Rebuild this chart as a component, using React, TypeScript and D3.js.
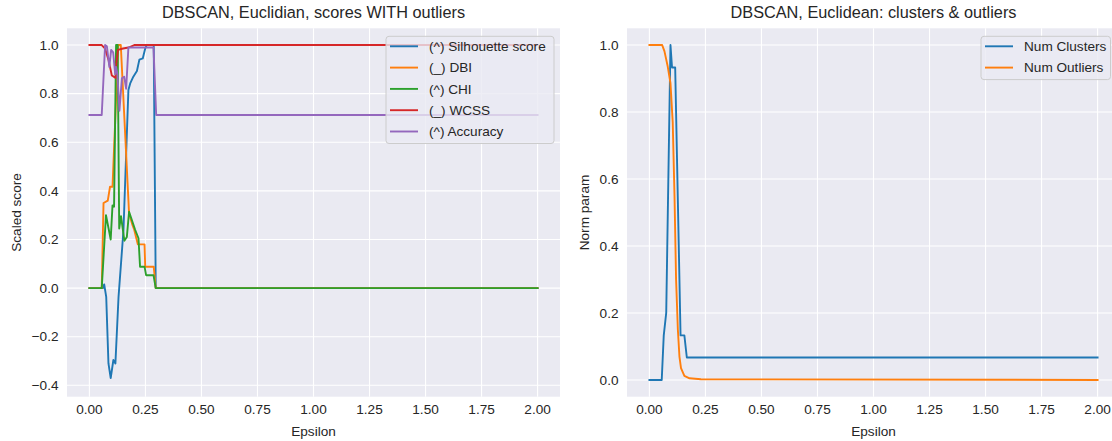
import React from 'react';
import * as d3 from 'd3';

// canvas
const width = 1112;
const height = 441;
const font = '"Liberation Sans", Arial, sans-serif';
const ink = '#262626';

// ticks
const epsTicks = [0, 0.25, 0.5, 0.75, 1, 1.25, 1.5, 1.75, 2];
const scoreTicks = [-0.4, -0.2, 0, 0.2, 0.4, 0.6, 0.8, 1.0];
const normTicks = [0, 0.2, 0.4, 0.6, 0.8, 1.0];

// left panel: [epsilon, scaled score]
const silhouette: [number, number][] = [
  [0, 0], [0.06, 0], [0.066, 0.015], [0.075, -0.036], [0.085, -0.31], [0.095, -0.37],
  [0.107, -0.296], [0.116, -0.31], [0.13, -0.036], [0.152, 0.238], [0.174, 0.815],
  [0.182, 0.842], [0.196, 0.87], [0.212, 0.893], [0.223, 0.94], [0.238, 0.945],
  [0.249, 0.986], [0.256, 1.0], [0.287, 1.0], [0.296, 0], [2.0, 0],
];
const dbi: [number, number][] = [
  [0, 0], [0.055, 0], [0.063, 0.35], [0.082, 0.36], [0.092, 0.417], [0.103, 0.417],
  [0.129, 1.0], [0.14, 1.0], [0.177, 0.307], [0.192, 0.26], [0.2, 0.24], [0.216, 0.18],
  [0.246, 0.18], [0.249, 0.088], [0.287, 0.088], [0.296, 0], [2.0, 0],
];
const chi: [number, number][] = [
  [0, 0], [0.055, 0], [0.074, 0.3], [0.095, 0.2], [0.103, 0.34], [0.11, 0.335],
  [0.119, 1.0], [0.126, 1.0], [0.133, 0.245], [0.141, 0.296], [0.156, 0.195],
  [0.167, 0.21], [0.177, 0.314], [0.204, 0.24], [0.219, 0.205], [0.226, 0.088],
  [0.246, 0.088], [0.253, 0.053], [0.286, 0.053], [0.296, 0], [2.0, 0],
];
const wcss: [number, number][] = [
  [0, 1.0], [0.055, 1.0], [0.07, 0.985], [0.085, 0.94], [0.1, 0.875], [0.117, 0.865],
  [0.12, 0.92], [0.127, 0.98], [0.15, 0.986], [0.175, 0.99], [0.2, 1.0], [2.0, 1.0],
];
const accuracy: [number, number][] = [
  [0, 0.712], [0.055, 0.712], [0.07, 1.0], [0.078, 0.995], [0.089, 0.91], [0.097, 0.98],
  [0.106, 0.97], [0.115, 0.88], [0.119, 0.91], [0.125, 0.88], [0.134, 0.73],
  [0.145, 0.863], [0.155, 0.87], [0.164, 0.82], [0.174, 0.99], [0.286, 0.99],
  [0.298, 0.712], [2.0, 0.712],
];

// right panel: [epsilon, normalised param]
const numClusters: [number, number][] = [
  [0, 0], [0.055, 0], [0.064, 0.133], [0.075, 0.2], [0.094, 1.0], [0.101, 0.933],
  [0.115, 0.933], [0.139, 0.133], [0.156, 0.133], [0.167, 0.067], [2.0, 0.067],
];
const numOutliers: [number, number][] = [
  [0, 1.0], [0.057, 1.0], [0.067, 0.982], [0.082, 0.935], [0.094, 0.886], [0.104, 0.77],
  [0.112, 0.55], [0.119, 0.3], [0.127, 0.15], [0.134, 0.07], [0.141, 0.035],
  [0.156, 0.012], [0.179, 0.005], [0.23, 0.002], [2.0, 0],
];

const leftSeries = [
  { name: '(^) Silhouette score', data: silhouette, color: '#1f77b4' },
  { name: '(_) DBI', data: dbi, color: '#ff7f0e' },
  { name: '(^) CHI', data: chi, color: '#2ca02c' },
  { name: '(_) WCSS', data: wcss, color: '#d62728' },
  { name: '(^) Accuracy', data: accuracy, color: '#9467bd' },
];
const rightSeries = [
  { name: 'Num Clusters', data: numClusters, color: '#1f77b4' },
  { name: 'Num Outliers', data: numOutliers, color: '#ff7f0e' },
];

const top = 28.3;
const bottom = 396.7;
const axW = 493;
const fs = 13.6;

type Series = { name: string; data: [number, number][]; color: string };

function Panel(props: {
  id: string;
  left: number;
  yDomain: [number, number];
  yTicks: number[];
  title: string;
  ylabel: string;
  ylabelX: number;
  series: Series[];
  legendLeft: number;
  legendRight: number;
}) {
  const { id, left, yDomain, yTicks, title, ylabel, ylabelX, series, legendLeft, legendRight } = props;
  const x = d3.scaleLinear().domain([-0.1, 2.1]).range([left, left + axW]);
  const y = d3.scaleLinear().domain(yDomain).range([bottom, top]);
  const line = d3
    .line<[number, number]>()
    .x(d => x(d[0]))
    .y(d => y(d[1]));
  const fx = d3.format('.2f');
  const fy = d3.format('.1f');
  const cx = left + axW / 2;

  const rowH = 21.3;
  const legH = 10 + (series.length - 1) * rowH + 12;
  const legY = 36.3;

  return (
    <g>
      <defs>
        <clipPath id={id}>
          <rect x={left} y={top} width={axW} height={bottom - top} />
        </clipPath>
      </defs>
      <rect x={left} y={top} width={axW} height={bottom - top} fill="#eaeaf2" />
      {epsTicks.map(t => (
        <line key={'gx' + t} x1={x(t)} x2={x(t)} y1={top} y2={bottom} stroke="#fff" strokeWidth={1.1} />
      ))}
      {yTicks.map(t => (
        <line key={'gy' + t} x1={left} x2={left + axW} y1={y(t)} y2={y(t)} stroke="#fff" strokeWidth={1.1} />
      ))}
      <g clipPath={`url(#${id})`}>
        {series.map(s => (
          <path key={s.name} d={line(s.data) || ''} fill="none" stroke={s.color} strokeWidth={1.9} strokeLinejoin="round" strokeLinecap="square" />
        ))}
      </g>
      {epsTicks.map(t => (
        <text key={'tx' + t} x={x(t)} y={414} textAnchor="middle" fontSize={fs} fill={ink}>
          {fx(t)}
        </text>
      ))}
      {yTicks.map(t => (
        <text key={'ty' + t} x={left - 8.5} y={y(t)} dy="0.35em" textAnchor="end" fontSize={fs} fill={ink}>
          {fy(t)}
        </text>
      ))}
      <text x={cx} y={435.5} textAnchor="middle" fontSize={fs} fill={ink}>Epsilon</text>
      <text
        transform={`translate(${ylabelX},${(top + bottom) / 2}) rotate(-90)`}
        textAnchor="middle"
        fontSize={fs}
        fill={ink}
      >
        {ylabel}
      </text>
      <text x={cx} y={18} textAnchor="middle" fontSize={16.3} fill={ink}>{title}</text>
      <g>
        <rect x={legendLeft} y={legY} width={legendRight - legendLeft} height={legH} rx={3} fill="#eaeaf2" fillOpacity={0.8} stroke="#cccccc" strokeWidth={1} />
        {series.map((s, i) => {
          const ry = legY + 10 + i * rowH;
          return (
            <g key={'lg' + s.name}>
              <line x1={legendLeft + 4} x2={legendLeft + 32} y1={ry} y2={ry} stroke={s.color} strokeWidth={1.9} />
              <text x={legendLeft + 43} y={ry} dy="0.35em" fontSize={fs} fill={ink}>{s.name}</text>
            </g>
          );
        })}
      </g>
    </g>
  );
}

export default function App() {
  return (
    <svg
      width={width}
      height={height}
      style={{ position: 'absolute', left: 0, top: 0, background: '#fff', fontFamily: font }}
    >
      <Panel
        id="clipA"
        left={67}
        yDomain={[-0.447, 1.069]}
        yTicks={scoreTicks}
        title="DBSCAN, Euclidian, scores WITH outliers"
        ylabel="Scaled score"
        ylabelX={21}
        series={leftSeries}
        legendLeft={386}
        legendRight={554}
      />
      <Panel
        id="clipB"
        left={627}
        yDomain={[-0.05, 1.05]}
        yTicks={normTicks}
        title="DBSCAN, Euclidean: clusters & outliers"
        ylabel="Norm param"
        ylabelX={589}
        series={rightSeries}
        legendLeft={981}
        legendRight={1110.5}
      />
    </svg>
  );
}
